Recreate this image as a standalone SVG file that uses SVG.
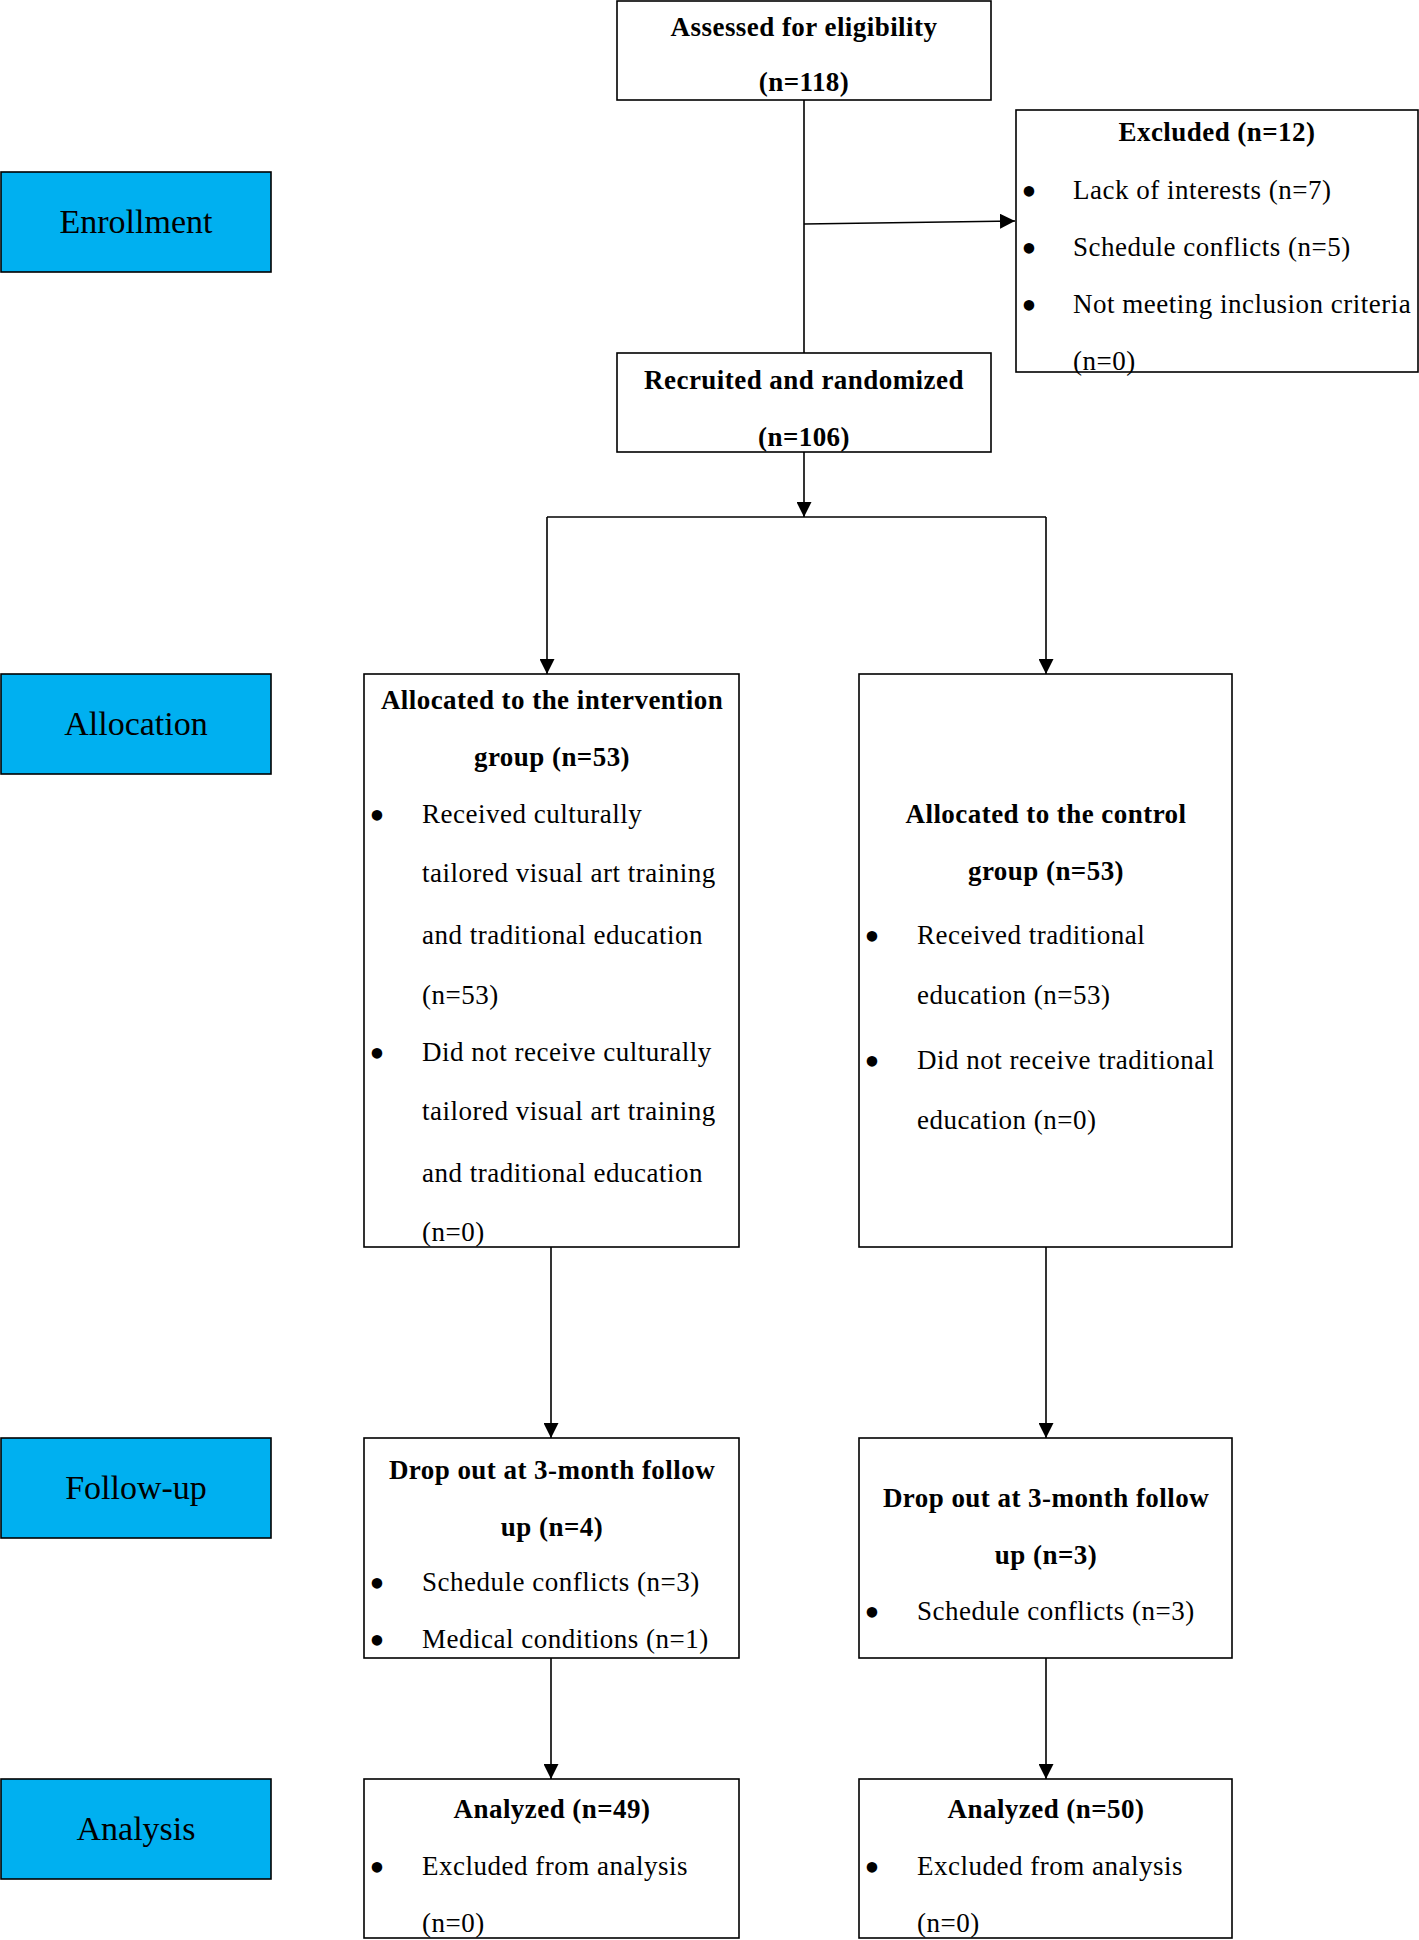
<svg xmlns="http://www.w3.org/2000/svg" width="1419" height="1940" viewBox="0 0 1419 1940">
<defs>
<style>
.box{fill:#fff;stroke:#000;stroke-width:1.6}
.lab{fill:#00B0F0;stroke:#000;stroke-width:1.6}
.b{font-family:"Liberation Serif","Times New Roman",serif;font-weight:bold;font-size:27px;letter-spacing:0.45px;text-anchor:middle;fill:#000}
.r{font-family:"Liberation Serif","Times New Roman",serif;font-size:27px;letter-spacing:0.5px;fill:#000}
.L{font-family:"Liberation Serif","Times New Roman",serif;font-size:34px;text-anchor:middle;fill:#000}
.bu{font-family:"Liberation Serif","Times New Roman",serif;font-size:44px;text-anchor:middle;fill:#000}
.ln{fill:none;stroke:#000;stroke-width:1.6}
</style>
<marker id="ah" viewBox="0 0 10 10" refX="10" refY="5" markerWidth="15" markerHeight="15" markerUnits="userSpaceOnUse" orient="auto">
<path d="M0,0 L10,5 L0,10 z" fill="#000"/>
</marker>
</defs>
<rect width="1419" height="1940" fill="#fff"/>

<g id="connectors">
<line class="ln" x1="804" y1="100" x2="804" y2="353"/>
<line class="ln" x1="804" y1="224" x2="1015" y2="221" marker-end="url(#ah)"/>
<line class="ln" x1="804" y1="452" x2="804" y2="517" marker-end="url(#ah)"/>
<line class="ln" x1="547" y1="517" x2="1046" y2="517"/>
<line class="ln" x1="547" y1="517" x2="547" y2="674" marker-end="url(#ah)"/>
<line class="ln" x1="1046" y1="517" x2="1046" y2="674" marker-end="url(#ah)"/>
<line class="ln" x1="551" y1="1247" x2="551" y2="1438" marker-end="url(#ah)"/>
<line class="ln" x1="1046" y1="1247" x2="1046" y2="1438" marker-end="url(#ah)"/>
<line class="ln" x1="551" y1="1658" x2="551" y2="1779" marker-end="url(#ah)"/>
<line class="ln" x1="1046" y1="1658" x2="1046" y2="1779" marker-end="url(#ah)"/>
</g>

<g id="label-enrollment">
<rect class="lab" x="1" y="172" width="270" height="100"/>
<text class="L" x="136" y="233">Enrollment</text>
</g>
<g id="label-allocation">
<rect class="lab" x="1" y="674" width="270" height="100"/>
<text class="L" x="136" y="735">Allocation</text>
</g>
<g id="label-followup">
<rect class="lab" x="1" y="1438" width="270" height="100"/>
<text class="L" x="136" y="1499">Follow-up</text>
</g>
<g id="label-analysis">
<rect class="lab" x="1" y="1779" width="270" height="100"/>
<text class="L" x="136" y="1840">Analysis</text>
</g>

<g id="assessed">
<rect class="box" x="617" y="1" width="374" height="99"/>
<text class="b" x="804" y="36">Assessed for eligibility</text>
<text class="b" x="804" y="91">(n=118)</text>
</g>

<g id="excluded">
<rect class="box" x="1016" y="110" width="402" height="262"/>
<text class="b" x="1217" y="141">Excluded (n=12)</text>
<text class="bu" x="1029" y="206">•</text>
<text class="r" x="1073" y="199">Lack of interests (n=7)</text>
<text class="bu" x="1029" y="263">•</text>
<text class="r" x="1073" y="256">Schedule conflicts (n=5)</text>
<text class="bu" x="1029" y="320">•</text>
<text class="r" x="1073" y="313">Not meeting inclusion criteria</text>
<text class="r" x="1073" y="370">(n=0)</text>
</g>

<g id="recruited">
<rect class="box" x="617" y="353" width="374" height="99"/>
<text class="b" x="804" y="389">Recruited and randomized</text>
<text class="b" x="804" y="446">(n=106)</text>
</g>

<g id="intervention">
<rect class="box" x="364" y="674" width="375" height="573"/>
<text class="b" x="552" y="709">Allocated to the intervention</text>
<text class="b" x="552" y="766">group (n=53)</text>
<text class="bu" x="377" y="830">•</text>
<text class="r" x="422" y="823">Received culturally</text>
<text class="r" x="422" y="882">tailored visual art training</text>
<text class="r" x="422" y="944">and traditional education</text>
<text class="r" x="422" y="1004">(n=53)</text>
<text class="bu" x="377" y="1068">•</text>
<text class="r" x="422" y="1061">Did not receive culturally</text>
<text class="r" x="422" y="1120">tailored visual art training</text>
<text class="r" x="422" y="1182">and traditional education</text>
<text class="r" x="422" y="1241">(n=0)</text>
</g>

<g id="control">
<rect class="box" x="859" y="674" width="373" height="573"/>
<text class="b" x="1046" y="823">Allocated to the control</text>
<text class="b" x="1046" y="880">group (n=53)</text>
<text class="bu" x="872" y="951">•</text>
<text class="r" x="917" y="944">Received traditional</text>
<text class="r" x="917" y="1004">education (n=53)</text>
<text class="bu" x="872" y="1076">•</text>
<text class="r" x="917" y="1069">Did not receive traditional</text>
<text class="r" x="917" y="1129">education (n=0)</text>
</g>

<g id="dropout-intervention">
<rect class="box" x="364" y="1438" width="375" height="220"/>
<text class="b" x="552" y="1479">Drop out at 3-month follow</text>
<text class="b" x="552" y="1536">up (n=4)</text>
<text class="bu" x="377" y="1598">•</text>
<text class="r" x="422" y="1591">Schedule conflicts (n=3)</text>
<text class="bu" x="377" y="1655">•</text>
<text class="r" x="422" y="1648">Medical conditions (n=1)</text>
</g>

<g id="dropout-control">
<rect class="box" x="859" y="1438" width="373" height="220"/>
<text class="b" x="1046" y="1507">Drop out at 3-month follow</text>
<text class="b" x="1046" y="1564">up (n=3)</text>
<text class="bu" x="872" y="1627">•</text>
<text class="r" x="917" y="1620">Schedule conflicts (n=3)</text>
</g>

<g id="analyzed-intervention">
<rect class="box" x="364" y="1779" width="375" height="159"/>
<text class="b" x="552" y="1818">Analyzed (n=49)</text>
<text class="bu" x="377" y="1882">•</text>
<text class="r" x="422" y="1875">Excluded from analysis</text>
<text class="r" x="422" y="1932">(n=0)</text>
</g>

<g id="analyzed-control">
<rect class="box" x="859" y="1779" width="373" height="159"/>
<text class="b" x="1046" y="1818">Analyzed (n=50)</text>
<text class="bu" x="872" y="1882">•</text>
<text class="r" x="917" y="1875">Excluded from analysis</text>
<text class="r" x="917" y="1932">(n=0)</text>
</g>
</svg>
